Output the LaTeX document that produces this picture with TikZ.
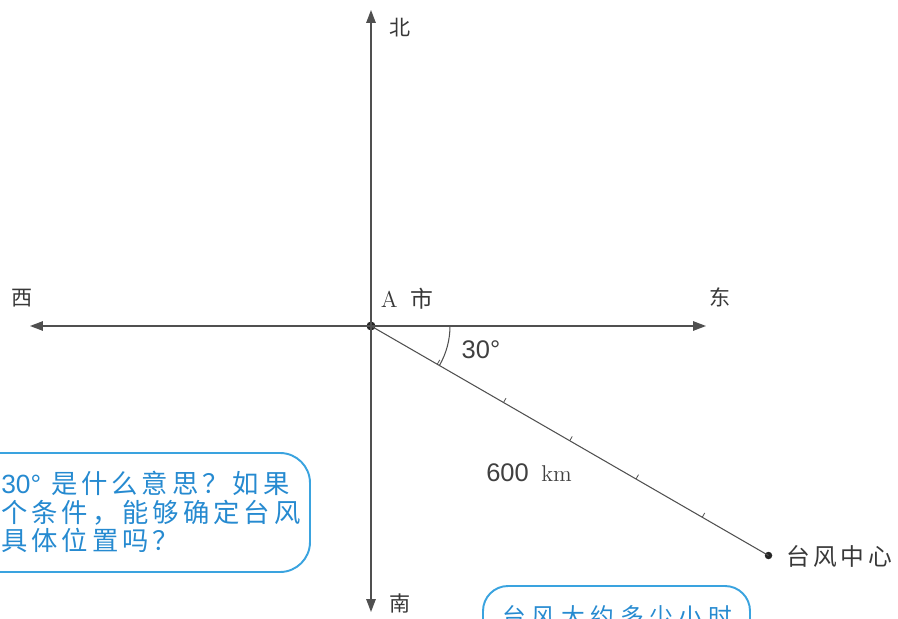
\documentclass[tikz,border=0pt]{standalone}
\usepackage{fontspec}
\usetikzlibrary{arrows.meta,calc}
\newfontfamily\cjk{Noto Sans CJK SC}
\newfontfamily\cjkask[LetterSpace=15]{Noto Sans CJK SC}
\newfontfamily\cjkaskwide[LetterSpace=24]{Noto Sans CJK SC}
\newfontfamily\numfont{Liberation Sans}
\definecolor{axisgray}{RGB}{80,80,80}
\definecolor{bubbleblue}{RGB}{58,163,223}
\definecolor{textblue}{RGB}{38,138,208}

\tikzset{
	axis/.style={draw=axisgray, line width=0.8pt, -{Triangle[length=2.6mm,width=1.9mm]}},
	dirlabel/.style={font=\cjk\fontsize{12}{14}\selectfont, text=axisgray!70!black, inner sep=0pt},
	track/.style={draw=axisgray, line width=0.6pt},
	tickmark/.style={draw=axisgray, line width=0.45pt},
	spot/.style={circle, fill=black!85, inner sep=0pt, minimum size=#1},
	bubble/.style={draw=bubbleblue, line width=1.1pt, rounded corners=0.6cm},
	asktext/.style={text=textblue, inner sep=0pt, align=left}
}

\begin{document}
\begin{tikzpicture}[x=0.02cm, y=0.02cm]
	\useasboundingbox (-371,-292) rectangle (527,326);

	\node[spot=0.18cm] (cityA) at (0,0) {};
	\coordinate (north) at (0,316);
	\coordinate (south) at (0,-286);
	\coordinate (west) at (-341,0);
	\coordinate (east) at (335,0);
	\node[spot=0.15cm] (typhoon) at (-30:459) {};

	\draw[axis] (cityA.center) -- (north);
	\draw[axis] (cityA.center) -- (south);
	\draw[axis] (cityA.center) -- (west);
	\draw[axis] (cityA.center) -- (east);
	\draw[track] (cityA.center) -- (typhoon.center);

	\foreach \k in {1,...,5}
		\draw[tickmark] ($(cityA.center)!\k/6!(typhoon.center)$) -- ++(60:5);

	\draw[track] ($(cityA.center)+(0:79)$) arc[start angle=0, end angle=-30, radius=1.58cm];

	\node[dirlabel] (labelN) at (29,298) {北};
	\node[dirlabel] (labelS) at (29,-277) {南};
	\node[dirlabel] (labelW) at (-349,28) {西};
	\node[dirlabel] (labelE) at (349,29) {东};

	\node[inner sep=0pt, text=axisgray!70!black, font=\fontsize{13}{15}\selectfont] (nameA) at (36,27) {A\hspace{0.25cm}{\cjk 市}};
	\node[inner sep=0pt, text=axisgray!80!black, font=\numfont\fontsize{14.5}{16}\selectfont] (angle) at (110,-24) {30°};
	\node[inner sep=0pt, text=axisgray!80!black] (distance) at (158,-147) {{\numfont\fontsize{14.5}{16}\selectfont 600}\hspace{0.25cm}{\fontsize{13}{15}\selectfont km}};
	\node[dirlabel, anchor=west, font=\cjkask\fontsize{13.5}{15}\selectfont] (nameTyphoon) at (415,-230) {台风中心};

	\draw[bubble] (-430,-127) rectangle (-61,-246);
	\node[asktext, anchor=west, font=\cjkask\fontsize{15}{16.4}\selectfont] (askLeft) at (-370,-186) {{\numfont 30°} 是什么意思？如果\\个条件，能够确定台风\\具体位置吗？};

	\draw[bubble, rounded corners=0.5cm] (112,-260) rectangle (379,-370);
	\node[asktext, anchor=west, font=\cjkaskwide\fontsize{13.5}{16}\selectfont] (askBottom) at (131,-290) {台风大约多少小时};
\end{tikzpicture}
\end{document}
